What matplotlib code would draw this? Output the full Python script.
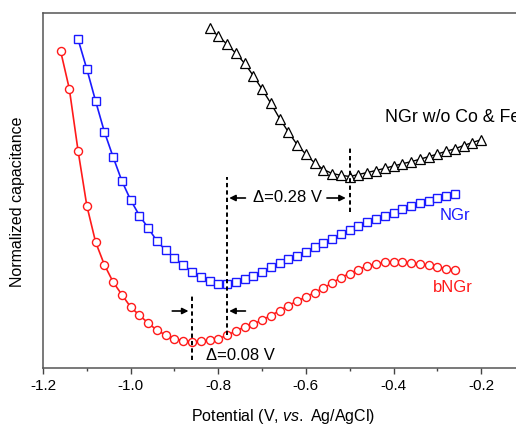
import matplotlib
matplotlib.use('Agg')
import matplotlib.pyplot as plt
import numpy as np

plt.rcParams['font.family'] = ['Liberation Sans', 'DejaVu Sans']
plt.rcParams['axes.unicode_minus'] = False
plt.rcParams['mathtext.fontset'] = 'custom'
plt.rcParams['mathtext.rm'] = 'Liberation Sans'
plt.rcParams['mathtext.it'] = 'Liberation Sans:italic'

# bNGr (red circles), potential in V vs. Ag/AgCl
bngr_x = np.round(np.arange(-1.16, -0.259, 0.02), 2)
bngr_y = [317.3, 279.3, 217.3, 162.3, 126, 103.3, 86, 73.3, 61, 52.7,
          45, 37.7, 33, 29.3, 27.3, 26.3, 26.7, 27.7, 29.3, 32.7,
          37, 41, 44, 48, 52.5, 57.3, 62.5, 67, 71, 75.5,
          80, 85, 90.5, 94.5, 98.5, 102, 104, 105.7, 106.5, 106,
          105, 104, 102.7, 101.5, 99, 97.7]

# NGr (blue squares)
ngr_x = np.round(np.arange(-1.12, -0.259, 0.02), 2)
ngr_y = [328.7, 299, 267, 236.3, 211, 187, 168, 152.5, 140, 127,
         117.7, 110, 102.8, 96.5, 90.8, 87, 84.5, 83.8, 85.7, 88.7,
         91.8, 96, 100.7, 104.7, 108.7, 112.3, 116.3, 120.7, 124.7, 129,
         134, 138.3, 142, 145.7, 148.7, 152, 155.3, 158.7, 162, 164.7,
         167.3, 169.7, 172, 173.7]

# NGr w/o Co & Fe (black triangles)
ref_x = np.round(np.arange(-0.82, -0.199, 0.02), 2)
ref_y = [339.7, 332, 323.7, 314.7, 304.7, 292.3, 278.7, 264.7, 249.5, 236,
         223.3, 213.7, 205, 198.5, 194.5, 192.7, 191.5, 193.5, 195.5, 197.5,
         199.7, 202, 204.3, 206.3, 208.8, 211.3, 214, 216.7, 219.2, 222.5,
         225.5, 228.3]

fig = plt.figure(figsize=(5.16, 4.26), dpi=100)
ax = fig.add_axes([43 / 516, 58 / 426, 482 / 516, 355 / 426])

ax.plot(bngr_x, bngr_y, '-o', color='#ff1a1a', lw=1.2, ms=5.8,
        mfc='white', mew=1.0)
ax.plot(ngr_x, ngr_y, '-s', color='#1a1aff', lw=1.2, ms=5.2,
        mfc='white', mew=1.0)
ax.plot(ref_x, ref_y, '-^', color='black', lw=1.0, ms=7,
        mfc='white', mew=0.9)

ax.set_xlim(-1.2, -0.1)
ax.set_ylim(0, 355)

# dashed markers at the minima
dash = (0, (2.2, 1.6))
ax.plot([-0.86, -0.86], [8, 73], color='k', lw=1.4, ls=dash)
ax.plot([-0.78, -0.78], [33, 191], color='k', lw=1.4, ls=dash)
ax.plot([-0.50, -0.50], [156, 221], color='k', lw=1.4, ls=dash)

arw = dict(arrowstyle='-|>', color='k', lw=1.2, mutation_scale=9,
           shrinkA=0, shrinkB=0)
ax.annotate('', xy=(-0.775, 170), xytext=(-0.738, 170), arrowprops=arw)
ax.annotate('', xy=(-0.509, 170), xytext=(-0.552, 170), arrowprops=arw)
ax.annotate('', xy=(-0.868, 57), xytext=(-0.905, 57), arrowprops=arw)
ax.annotate('', xy=(-0.775, 57), xytext=(-0.738, 57), arrowprops=arw)

ax.text(-0.643, 170, 'Δ=0.28 V', fontsize=12, ha='center', va='center')
ax.text(-0.750, 13, 'Δ=0.08 V', fontsize=12, ha='center', va='center')

ax.text(-0.419, 251, 'NGr w/o Co & Fe', fontsize=12.8, ha='left',
        va='center', color='black')
ax.text(-0.294, 152, 'NGr', fontsize=12, ha='left', va='center',
        color='#1a1aff')
ax.text(-0.31, 80, 'bNGr', fontsize=12, ha='left', va='center',
        color='#ff1a1a')

ax.set_xticks([-1.2, -1.0, -0.8, -0.6, -0.4, -0.2])
ax.set_xticklabels(['-1.2', '-1.0', '-0.8', '-0.6', '-0.4', '-0.2'])
ax.set_xticks([-1.1, -0.9, -0.7, -0.5, -0.3], minor=True)
ax.set_yticks([])
ax.tick_params(axis='x', which='major', direction='out', length=4,
               width=1, labelsize=11, colors='#444444', labelcolor='black',
               pad=4)
ax.tick_params(axis='x', which='minor', direction='out', length=2.5,
               width=1, colors='#444444')

for s in ['left', 'top', 'bottom']:
    ax.spines[s].set_color('#555555')
    ax.spines[s].set_linewidth(1.1)
ax.spines['right'].set_visible(False)

fig.text(283.5 / 516, 1 - 416.5 / 426, r'Potential (V, $\mathit{vs.}$ Ag/AgCl)',
         fontsize=11.5, ha='center', va='center')
fig.text(18 / 516, 1 - 202 / 426, 'Normalized capacitance', fontsize=11.5,
         rotation=90, ha='center', va='center')

plt.savefig('out.png', dpi=100)
